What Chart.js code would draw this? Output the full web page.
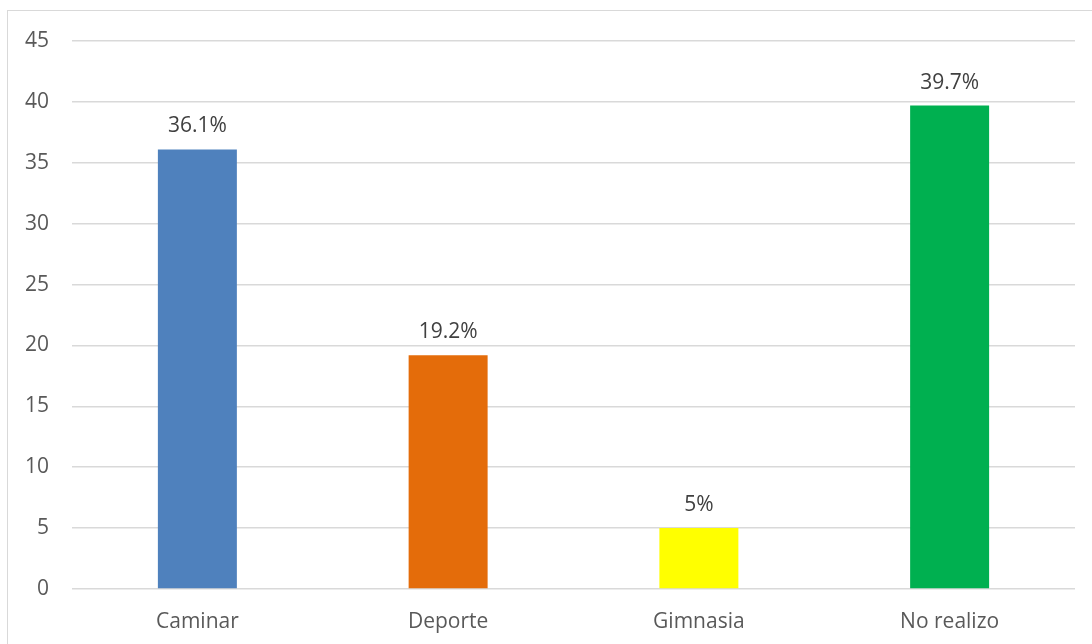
<!DOCTYPE html>
<html>
<head>
<meta charset="utf-8">
<script src="https://cdn.jsdelivr.net/npm/chart.js@4"></script>
<style>
  html, body { margin: 0; padding: 0; background: #fff; }
  #wrap { width: 1092px; height: 644px; position: relative; overflow: hidden; }
  #frame { position: absolute; left: 7px; top: 10px; width: 1200px; height: 800px; border: 1.5px solid #d9d9d9; }
  canvas { position: absolute; left: 0; top: 0; }
</style>
</head>
<body>
<div id="wrap">
  <div id="frame"></div>
  <canvas id="actividad-chart" width="1092" height="644"></canvas>
</div>
<script>
// datos
var categorias = ['Caminar', 'Deporte', 'Gimnasia', 'No realizo'];
var valores = [36.1, 19.2, 5, 39.7];
var etiquetas = ['36.1%', '19.2%', '5%', '39.7%'];
var colores = ['#4f81bd', '#e46c0a', '#ffff00', '#00b050'];

var fuente = '"Open Sans", "Liberation Sans", sans-serif';

// dibuja el porcentaje encima de cada barra
var etiquetasPlugin = {
  id: 'etiquetas',
  afterDatasetsDraw: function(chart) {
    var ctx = chart.ctx;
    var meta = chart.getDatasetMeta(0);
    ctx.save();
    ctx.font = '21px ' + fuente;
    ctx.fillStyle = '#404040';
    ctx.textAlign = 'center';
    ctx.textBaseline = 'alphabetic';
    meta.data.forEach(function(bar, i) {
      ctx.fillText(etiquetas[i], bar.x, bar.y - 17);
    });
    ctx.restore();
  }
};

var ctx = document.getElementById('actividad-chart').getContext('2d');
var chart = new Chart(ctx, {
  type: 'bar',
  data: {
    labels: categorias,
    datasets: [{
      data: valores,
      backgroundColor: colores,
      borderWidth: 0,
      barPercentage: 0.63,
      categoryPercentage: 0.5
    }]
  },
  options: {
    responsive: false,
    animation: false,
    layout: { padding: { top: 41, right: 17, bottom: 0, left: 0 } },
    plugins: {
      legend: { display: false },
      tooltip: { enabled: false }
    },
    scales: {
      x: {
        grid: { display: false, drawTicks: false },
        border: { display: false },
        ticks: { color: '#595959', font: { family: fuente, size: 21 }, padding: 20 },
        afterFit: function(scale) { scale.height = 55; }
      },
      y: {
        min: 0,
        max: 45,
        ticks: { stepSize: 5, color: '#595959', font: { family: fuente, size: 21 }, padding: 23 },
        grid: { color: '#d9d9d9', lineWidth: 1.5, drawTicks: false },
        border: { display: false },
        afterFit: function(scale) { scale.width = 72; }
      }
    }
  },
  plugins: [etiquetasPlugin]
});
</script>
</body>
</html>
